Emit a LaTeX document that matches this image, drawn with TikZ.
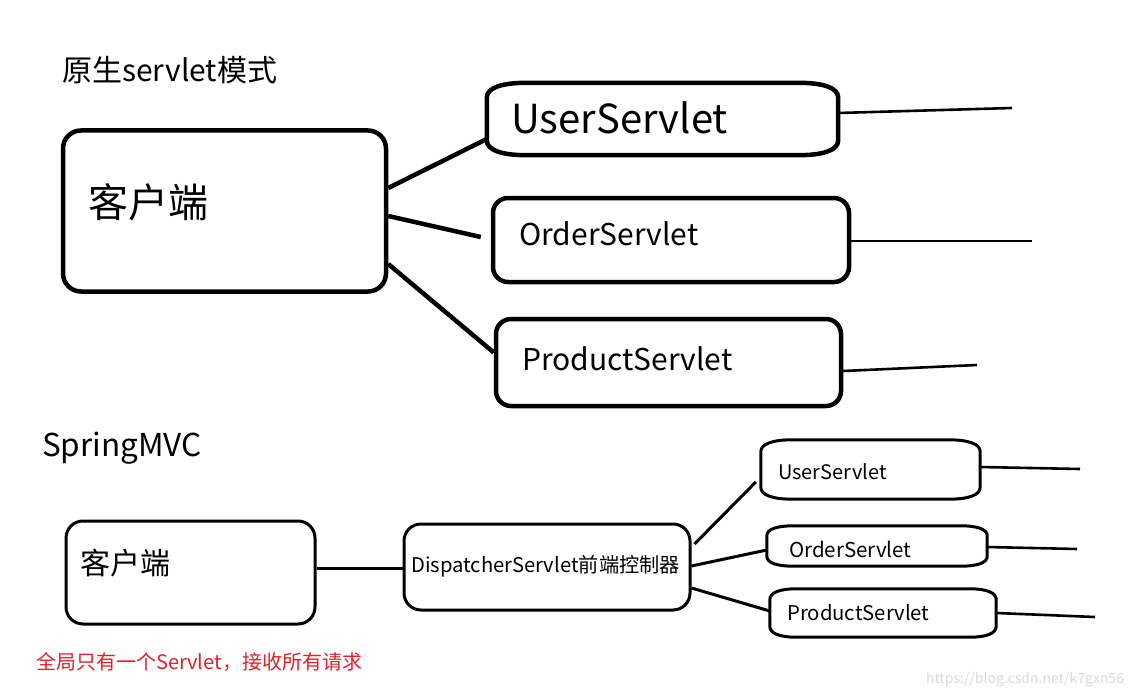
\documentclass[tikz,border=0pt]{standalone}
\usepackage{fontspec}
\setmainfont{Noto Sans CJK SC}
\usetikzlibrary{calc}
\definecolor{redtxt}{HTML}{E3202A}
\definecolor{wm}{HTML}{D9D9D9}
\newcommand\fs[1]{\fontsize{#1}{#1}\selectfont}
\newcommand\bulgebox[4]{%
  \draw[#1] ($(#2.north west)+(0,#4)$)
    .. controls ($(#2.north west)+(0,0.35*#4)$) and ($(#2.north west)+(0.35*#3,0)$) .. ($(#2.north west)+(#3,0)$)
    -- ($(#2.north east)+(-#3,0)$)
    .. controls ($(#2.north east)+(-0.35*#3,0)$) and ($(#2.north east)+(0,0.35*#4)$) .. ($(#2.north east)+(0,#4)$)
    -- ($(#2.south east)+(0,-#4)$)
    .. controls ($(#2.south east)+(0,-0.35*#4)$) and ($(#2.south east)+(-0.35*#3,0)$) .. ($(#2.south east)+(-#3,0)$)
    -- ($(#2.south west)+(#3,0)$)
    .. controls ($(#2.south west)+(0.35*#3,0)$) and ($(#2.south west)+(0,-0.35*#4)$) .. ($(#2.south west)+(0,-#4)$)
    -- cycle;}
\tikzset{
  thickbox/.style={draw, line width=4.5pt, rounded corners=18pt, inner sep=0pt},
  thinbox/.style={draw, line width=3pt, rounded corners=17pt, inner sep=0pt},
  shell/.style={inner sep=0pt},
  thickline/.style={line width=4.5pt},
  midline/.style={line width=3pt},
  outline/.style={line width=2.6pt},
  lab/.style={anchor=west, inner sep=0pt, text=black},
}
\begin{document}
\begin{tikzpicture}[x=1pt,y=-1pt]
\useasboundingbox[fill=white] (0,0) rectangle (1140,698);

% ---------- top section ----------
\node[lab, font=\fs{30}] (title1) at (62,70.5) {原生servlet模式};

\node[thickbox, minimum width=323pt, minimum height=161pt] (c1) at (224.5,211) {};
\node[lab, font=\fs{40}] (c1t) at (88,202.5) {客户端};

\node[shell, minimum width=351pt, minimum height=72pt] (u1) at (662.5,119) {};
\bulgebox{line width=4.5pt}{u1}{40}{15}
\node[lab, font=\fs{40}] (u1t) at (511,118) {UserServlet};

\node[thickbox, rounded corners=15pt, minimum width=356pt, minimum height=84pt] (o1) at (671,240) {};
\node[lab, font=\fs{30}] (o1t) at (519,234) {OrderServlet};

\node[thickbox, rounded corners=15pt, minimum width=345pt, minimum height=87pt] (p1) at (668.5,362.5) {};
\node[lab, font=\fs{30}] (p1t) at (522,359) {ProductServlet};

\draw[thickline] ($(c1.east)+(0,-23)$) -- ($(u1.west)+(0,20)$);
\draw[thickline] ($(c1.east)+(0,5)$) -- ($(o1.west)+(-10,-3)$);
\draw[thickline] ($(c1.east)+(0,53)$) -- ($(p1.west)+(0,-10)$);

\coordinate (u1e) at (1012,108);
\coordinate (o1e) at (1032,241);
\coordinate (p1e) at (977,365);
\draw[outline] ($(u1.east)+(0,-6)$) -- (u1e);
\draw[outline] ($(o1.east)+(0,1)$) -- (o1e);
\draw[outline] ($(p1.east)+(0,8.5)$) -- (p1e);

% ---------- bottom section ----------
\node[lab, font=\fs{31.5}] (title2) at (42,448) {SpringMVC};

\node[thinbox, minimum width=249pt, minimum height=103pt] (c2) at (190.5,572.5) {};
\node[lab, font=\fs{30}] (c2t) at (80,563) {客户端};

\node[thinbox, minimum width=286pt, minimum height=86pt] (d) at (547,567) {};
\node[lab, font=\fs{20.2}] (dt) at (411,566) {DispatcherServlet前端控制器};

\node[shell, minimum width=219pt, minimum height=59pt] (bu) at (870.5,469.5) {};
\bulgebox{line width=3pt}{bu}{32}{12}
\node[lab, font=\fs{20}] (but) at (778,472) {UserServlet};

\node[shell, minimum width=220pt, minimum height=40pt] (bo) at (877,546) {};
\bulgebox{line width=3pt}{bo}{27}{10}
\node[lab, font=\fs{20.5}] (bot) at (789,549) {OrderServlet};

\node[shell, minimum width=226pt, minimum height=48pt] (bp) at (883,613) {};
\bulgebox{line width=3pt}{bp}{27}{11}
\node[lab, font=\fs{20.3}] (bpt) at (787,613) {ProductServlet};

\draw[midline] ($(c2.east)+(0,-4.5)$) -- ($(d.west)+(0,1)$);
\draw[midline] ($(d.east)+(3,-23)$) -- ($(bu.west)+(-5,12.5)$);
\draw[midline] ($(d.east)+(0,-1)$) -- ($(bo.west)+(0,4)$);
\draw[midline] ($(d.east)+(0,21)$) -- ($(bp.west)+(0,-2)$);

\coordinate (bue) at (1080,469);
\coordinate (boe) at (1077,549);
\coordinate (bpe) at (1095,617);
\draw[outline] ($(bu.east)+(0,-2.5)$) -- (bue);
\draw[outline] ($(bo.east)+(0,1)$) -- (boe);
\draw[outline] (bp.east) -- (bpe);

\node[lab, font=\fs{20}, text=redtxt] (note) at (36,662) {全局只有一个Servlet，接收所有请求};
\node[lab, font=\fs{14}, text=wm] (wmark) at (926,680) {https://blog.csdn.net/k7gxn56};
\end{tikzpicture}
\end{document}
